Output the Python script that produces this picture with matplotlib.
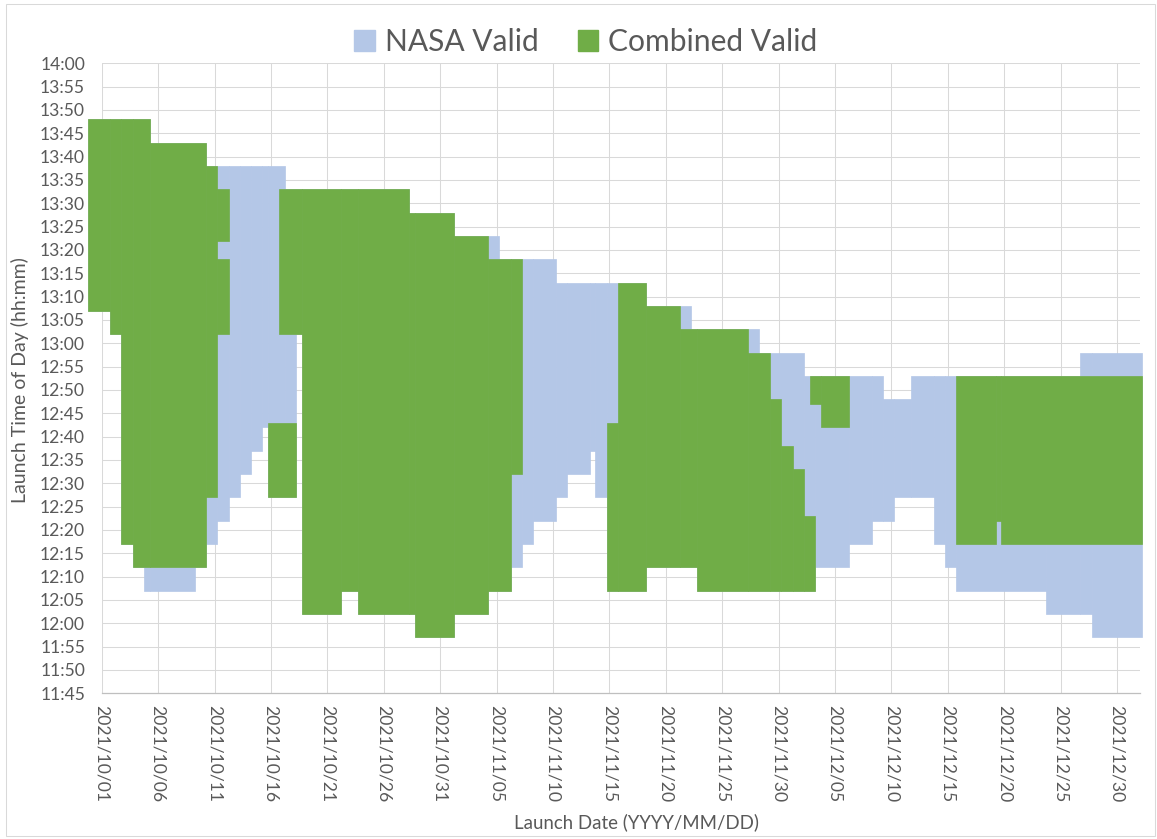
import numpy as np
import pandas as pd
import matplotlib
matplotlib.use("Agg")
import matplotlib.pyplot as plt
from matplotlib.patches import Patch, Rectangle

plt.rcParams['font.family'] = ['Lato', 'DejaVu Sans']

# launch windows, x in days after 2021/10/01 00:00 (half-day resolution)
# NASA valid: contiguous runs of a constant window
nasa_edges = [-1.25, 0.75, 1.75, 2.75, 3.75, 4.25, 8.25, 9.25, 10.25, 11.25,
              12.25, 13.25, 14.25, 14.75, 16.25, 17.25, 17.75, 21.25, 22.75, 27.25,
              27.75, 31.25, 34.25, 35.25, 36.25, 37.25, 38.25, 40.25, 41.25, 43.25,
              43.75, 44.75, 48.25, 52.25, 52.75, 58.25, 62.25, 63.25, 66.25, 68.25,
              69.25, 70.25, 71.75, 73.75, 74.75, 75.75, 83.75, 86.75, 87.75, 92.25]
nasa_lo = ["13:07", "13:02", "12:17", "12:12", "12:07", "12:07", "12:12", "12:17", "12:22", "12:27",
           "12:32", "12:37", "12:42", "12:27", "12:27", "13:02", "12:02", "12:07", "12:02", "12:02",
           "11:57", "12:02", "12:07", "12:07", "12:12", "12:17", "12:22", "12:27", "12:32", "12:37",
           "12:27", "12:07", "12:12", "12:12", "12:07", "12:07", "12:07", "12:12", "12:17", "12:22",
           "12:22", "12:27", "12:27", "12:17", "12:12", "12:07", "12:02", "12:02", "11:57"]
nasa_hi = ["13:48", "13:48", "13:48", "13:48", "13:48", "13:43", "13:43", "13:38", "13:38", "13:38",
           "13:38", "13:38", "13:38", "13:38", "13:33", "13:33", "13:33", "13:33", "13:33", "13:28",
           "13:28", "13:23", "13:23", "13:18", "13:18", "13:18", "13:18", "13:13", "13:13", "13:13",
           "13:13", "13:13", "13:08", "13:03", "13:03", "12:58", "12:53", "12:53", "12:53", "12:53",
           "12:48", "12:48", "12:53", "12:53", "12:53", "12:53", "12:53", "12:58", "12:58"]

# Combined valid: separate windows (some days have two)
comb_start = [-1.25, 0.75, 1.75, 2.75, 4.25, 9.25, 10.25, 10.25, 14.75, 15.75,
              17.75, 21.25, 22.75, 27.25, 27.75, 31.25, 34.25, 36.25, 44.75, 45.75,
              48.25, 51.25, 52.75, 57.25, 59.25, 60.25, 61.25, 62.25, 62.75, 63.75,
              75.75, 79.25, 79.75]
comb_end = [0.75, 1.75, 2.75, 4.25, 9.25, 10.25, 11.25, 11.25, 17.25, 17.75,
            21.25, 22.75, 27.25, 27.75, 31.25, 34.25, 36.25, 37.25, 45.75, 48.25,
            51.25, 52.75, 57.25, 59.25, 60.25, 61.25, 62.25, 63.25, 63.75, 66.25,
            79.25, 79.75, 92.25]
comb_lo = ["13:07", "13:02", "12:17", "12:12", "12:12", "12:27", "13:22", "13:02", "12:27", "13:02",
           "12:02", "12:07", "12:02", "12:02", "11:57", "12:02", "12:07", "12:32", "12:07", "12:07",
           "12:12", "12:12", "12:07", "12:07", "12:07", "12:07", "12:07", "12:07", "12:47", "12:42",
           "12:17", "12:22", "12:17"]
comb_hi = ["13:48", "13:48", "13:48", "13:48", "13:43", "13:38", "13:33", "13:18", "12:43", "13:33",
           "13:33", "13:33", "13:33", "13:28", "13:28", "13:23", "13:18", "13:18", "12:43", "13:13",
           "13:08", "13:03", "13:03", "12:58", "12:48", "12:38", "12:33", "12:23", "12:53", "12:53",
           "12:53", "12:53", "12:53"]

blue = '#B4C7E7'
green = '#70AD47'
grey = '#595959'


def hours(times):
    return np.array([int(t[:2]) + int(t[3:]) / 60 for t in times])


fig = plt.figure(figsize=(11.57, 8.39), dpi=100)
ax = fig.add_axes([0.0879, 0.1737, 0.8970, 0.7509])

# NASA valid
s = np.array(nasa_edges[:-1])
w = np.diff(nasa_edges)
lo, hi = hours(nasa_lo), hours(nasa_hi)
ax.bar(s, hi - lo, width=w, bottom=lo, align='edge', color=blue,
       edgecolor=blue, linewidth=0.5, clip_on=False, zorder=2)

# Combined valid
s = np.array(comb_start)
w = np.array(comb_end) - s
lo, hi = hours(comb_lo), hours(comb_hi)
ax.bar(s, hi - lo, width=w, bottom=lo, align='edge', color=green,
       edgecolor=green, linewidth=0.5, clip_on=False, zorder=3)

ax.set_xlim(0, 92)
ax.set_ylim(11.75, 14.0)

xt = np.arange(0, 91, 5)
ax.set_xticks(xt)
ax.set_xticklabels(pd.date_range('2021-10-01', periods=len(xt), freq='5D').strftime('%Y/%m/%d'),
                   rotation=-90, va='top', ha='center')
yt = np.arange(11 * 60 + 45, 14 * 60 + 1, 5)
ax.set_yticks(yt / 60)
ax.set_yticklabels([f"{m // 60}:{m % 60:02d}" for m in yt])

ax.tick_params(axis='both', length=0, labelsize=12.6, labelcolor=grey)
ax.tick_params(axis='x', pad=8.5)
ax.tick_params(axis='y', pad=12)
ax.grid(True, color='#d9d9d9', linewidth=0.75)
ax.set_axisbelow(True)
for side in ['top', 'right', 'left']:
    ax.spines[side].set_visible(False)
ax.spines['bottom'].set_color('#bfbfbf')
ax.spines['bottom'].set_linewidth(0.9)

fig.text(20 / 1157, 1 - 380 / 839, 'Launch Time of Day (hh:mm)', rotation=90,
         ha='center', va='center', fontsize=14, color=grey)
fig.text(636 / 1157, 1 - 822 / 839, 'Launch Date (YYYY/MM/DD)',
         ha='center', va='center', fontsize=13.4, color=grey)

handles = [Patch(color=blue, label='NASA Valid'), Patch(color=green, label='Combined Valid')]
fig.legend(handles=handles, loc='center', bbox_to_anchor=(586 / 1157, 1 - 42 / 839),
           ncol=2, frameon=False, fontsize=21.6, labelcolor=grey,
           handlelength=0.67, handleheight=0.67, handletextpad=0.35, columnspacing=1.3)

fig.patches.append(Rectangle((6 / 1157, 3 / 839), 1149 / 1157, 832 / 839, transform=fig.transFigure,
                             fill=False, edgecolor='#d9d9d9', linewidth=0.75))

fig.savefig('out.png', dpi=100)
